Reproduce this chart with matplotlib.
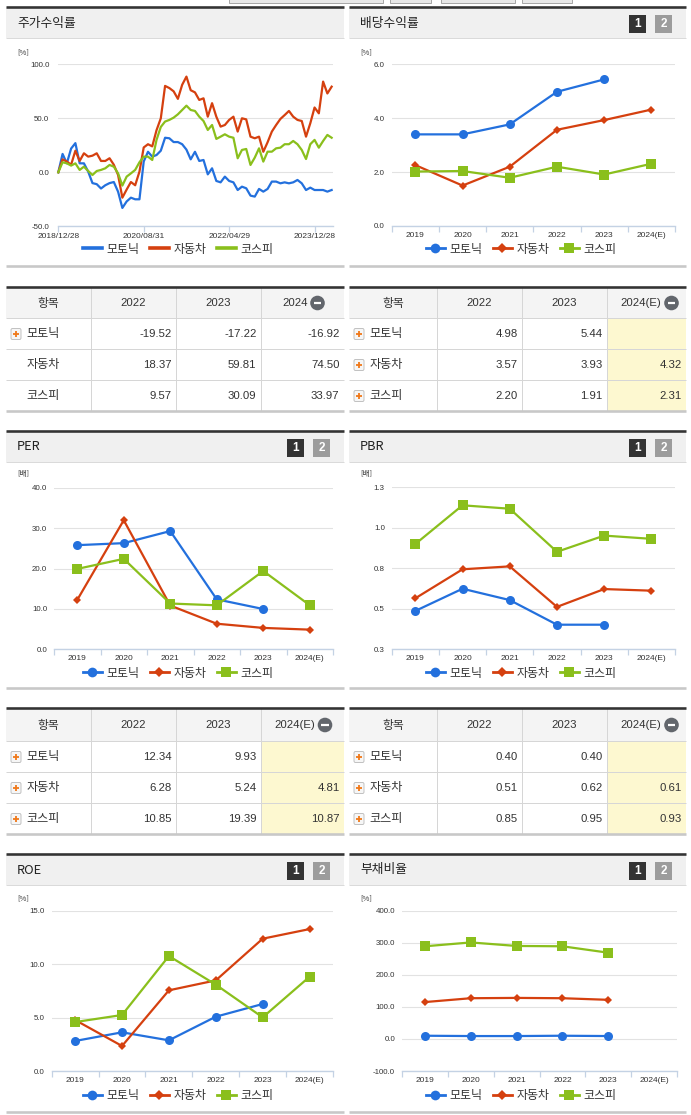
import numpy as np
import matplotlib
matplotlib.use('Agg')
import matplotlib.pyplot as plt
from matplotlib.patches import Rectangle, Circle, FancyBboxPatch
from matplotlib.lines import Line2D
from matplotlib import font_manager

# ---------------- data ----------------
series_names = ['모토닉', '자동차', '코스피']
years = ['2019', '2020', '2021', '2022', '2023', '2024(E)']

stock_tick_index = [0, 20, 40, 60]
stock_tick_labels = ['2018/12/28', '2020/08/31', '2022/04/29', '2023/12/28']
stock_motonic = [0, 17, 8.3, 22, 27, 8.3, 8.3, 0.6, -10, -11, -15, -12, -10, -9, -18, -33, -27, -23.5,
                 -25, -25, 10, 19, 14.5, 16, 20, 32, 31.5, 28, 28, 26, 21, 12, 19,
                 10.5, 11.4, -1.9, 3.7, -8, -9.3, -4, -8, -9.3, -16.4, -13.3, -14.8, -21.6, -22.5,
                 -15.4, -17.9, -15.4, -8.6, -8.6, -10.2, -9.3, -10.2, -9.3, -7.1, -10.2, -16.4,
                 -14.2, -16.4, -16.4, -16.4, -17.9, -16.4]
stock_auto = [0, 12, 10, 7, 20, 10.5, 17.6, 14.5, 15.4, 17.6, 10.5, 10.5, 13, 7, -2.5, -23.5, -16, -9,
              -12, 0.6, 23, 26, 24, 39, 50, 80, 78, 75, 68, 81, 88.6, 76, 74,
              67, 68.5, 51.5, 64, 51.5, 42.3, 43.8, 48.5, 51.5, 37.7, 50, 49, 33, 31.5, 33, 19,
              27.8, 37.7, 43.8, 49.4, 53, 56.8, 51.5, 48.5, 47.5, 33, 45.4, 60, 54.6, 84, 73, 79.3]
stock_kospi = [0, 9.3, 8.3, 6.2, 8.3, 2.2, 5.2, 1.2, -2.5, 1.2, 2.2, 3.7, 6.8, 5.2, -1, -12.3, -4, -1,
               2.2, 9.3, 14.5, 14.5, 11.4, 30, 42, 47, 48.5, 50.6, 53.7, 57.7, 61.7, 57.7, 56.8,
               51.5, 47.5, 39.2, 43.8, 30.9, 33, 35.2, 33, 32, 13, 20.7, 21.6, 6.8, 13.6, 22.2, 9.9,
               19.1, 19.1, 22.2, 22.8, 26, 26, 29, 26, 20.7, 12.3, 26, 30, 22.8, 29, 34.6, 32]

nan = np.nan
div_motonic = [3.40, 3.40, 3.77, 4.98, 5.44, nan]
div_auto = [2.26, 1.50, 2.20, 3.57, 3.93, 4.32]
div_kospi = [2.02, 2.04, 1.79, 2.20, 1.91, 2.31]

per_motonic = [25.8, 26.3, 29.3, 12.34, 9.93, nan]
per_auto = [12.2, 32.0, 10.8, 6.28, 5.24, 4.81]
per_kospi = [19.9, 22.4, 11.3, 10.85, 19.39, 10.87]

pbr_motonic = [0.485, 0.622, 0.552, 0.40, 0.40, nan]
pbr_auto = [0.563, 0.742, 0.76, 0.51, 0.62, 0.61]
pbr_kospi = [0.898, 1.137, 1.116, 0.85, 0.95, 0.93]

roe_motonic = [2.81, 3.62, 2.87, 5.08, 6.27, nan]
roe_auto = [4.77, 2.34, 7.55, 8.48, 12.38, 13.28]
roe_kospi = [4.58, 5.24, 10.76, 8.08, 5.02, 8.82]

debt_motonic = [10, 9, 9, 10, 9, nan]
debt_auto = [115, 127, 128, 127, 122, nan]
debt_kospi = [289, 301, 290, 289, 269, nan]

t_stock_head = ['2022', '2023', '2024']
t_stock_rows = [['-19.52', '-17.22', '-16.92'], ['18.37', '59.81', '74.50'], ['9.57', '30.09', '33.97']]
t_div_head = ['2022', '2023', '2024(E)']
t_div_rows = [['4.98', '5.44', ''], ['3.57', '3.93', '4.32'], ['2.20', '1.91', '2.31']]
t_per_head = ['2022', '2023', '2024(E)']
t_per_rows = [['12.34', '9.93', ''], ['6.28', '5.24', '4.81'], ['10.85', '19.39', '10.87']]
t_pbr_head = ['2022', '2023', '2024(E)']
t_pbr_rows = [['0.40', '0.40', ''], ['0.51', '0.62', '0.61'], ['0.85', '0.95', '0.93']]

# ---------------- style ----------------
KR = ['Noto Sans CJK KR', 'DejaVu Sans']
_avail = {f.name for f in font_manager.fontManager.ttflist}
NUM = ['Liberation Sans Narrow'] if 'Liberation Sans Narrow' in _avail else ['Liberation Sans', 'DejaVu Sans']
NUM_STRETCH = 'condensed'
AX = ['Liberation Sans', 'DejaVu Sans']
colors = ['#2370dd', '#d5400f', '#8abf1c']
markers = ['o', 'D', 's']
msizes = [6.5, 4.2, 6.5]
TXT = '#333333'
GRID = '#e2e2e2'
AXLINE = '#c4d2e4'

W, H = 691, 1115
fig = plt.figure(figsize=(W / 100, H / 100), dpi=100)
bg = fig.add_axes([0, 0, 1, 1], zorder=0)
bg.set_xlim(0, W)
bg.set_ylim(H, 0)
bg.axis('off')

PX = 0.72  # points per pixel


def hline(x0, x1, y, color, lw_px):
    bg.plot([x0, x1], [y, y], color=color, lw=lw_px * PX, solid_capstyle='butt')


def vline(x, y0, y1, color, lw_px):
    bg.plot([x, x], [y0, y1], color=color, lw=lw_px * PX, solid_capstyle='butt')


def numtext(x, y, s, ha):
    t = bg.text(x, y, s, fontsize=8.2, family=NUM, color=TXT, ha=ha, va='center')
    t.set_fontstretch(NUM_STRETCH)
    return t


# top partial tabs
for (a, b) in [(229, 383), (390, 431), (441, 515), (522, 572)]:
    bg.add_patch(Rectangle((a, -2), b - a, 5, fc='#e8e8e8', ec='#9a9a9a', lw=0.6))


def panel(x0, x1, ytop, ybot, title, numbox):
    bg.add_patch(Rectangle((x0, ytop), x1 - x0, 31, fc='#f0f0f0', ec='none'))
    hline(x0, x1, ytop, '#333333', 2.6)
    hline(x0, x1, ytop + 31, '#dadada', 1)
    hline(x0, x1, ybot, '#c8c8c8', 2.6)
    bg.text(x0 + 11, ytop + 16, title, fontsize=9.2, family=KR, color='#222222', va='center', ha='left')
    if numbox:
        for k, (fc, lab) in enumerate([('#333333', '1'), ('#9c9c9c', '2')]):
            bx = x1 - 57 + k * 26
            bg.add_patch(Rectangle((bx, ytop + 8), 17, 18, fc=fc, ec='none'))
            bg.text(bx + 8.5, ytop + 17.3, lab, fontsize=8.5, fontweight='bold', family=AX,
                    color='white', ha='center', va='center')


L0, L1, R0, R1 = 6, 344, 349, 686
panel(L0, L1, 7, 266, '주가수익률', False)
panel(R0, R1, 7, 266, '배당수익률', True)
panel(L0, L1, 431, 688, 'PER', True)
panel(R0, R1, 431, 688, 'PBR', True)
panel(L0, L1, 854, 1112, 'ROE', True)
panel(R0, R1, 854, 1112, '부채비율', True)


def legend(ax, handles, cx, cy):
    leg = ax.legend(handles=handles, loc='center', bbox_to_anchor=(cx / W, 1 - cy / H),
                    bbox_transform=fig.transFigure, ncol=3, frameon=False,
                    prop={'family': KR, 'size': 8.6}, handlelength=1.6, handletextpad=0.35,
                    columnspacing=0.9, numpoints=1, borderpad=0, borderaxespad=0)
    for t in leg.get_texts():
        t.set_color(TXT)


def make_ax(rect):
    x0, y0, x1, y1 = rect
    ax = fig.add_axes([x0 / W, 1 - y1 / H, (x1 - x0) / W, (y1 - y0) / H], zorder=2)
    ax.patch.set_alpha(0)
    for s in ['top', 'right', 'left']:
        ax.spines[s].set_visible(False)
    ax.spines['bottom'].set_color(AXLINE)
    ax.spines['bottom'].set_linewidth(1.0)
    ax.yaxis.grid(True, color=GRID, lw=0.8)
    ax.set_axisbelow(True)
    ax.tick_params(axis='y', length=0, pad=5, labelsize=5.7, labelcolor=TXT)
    return ax


def cat_chart(rect, data, ylim, yticks, ytlabels, unit, unit_xy, leg_c):
    ax = make_ax(rect)
    xs = np.arange(len(years))
    for vals, c, m, ms in zip(data, colors, markers, msizes):
        ax.plot(xs, vals, color=c, lw=1.6, marker=m, markersize=ms, markeredgewidth=0,
                clip_on=False, zorder=3)
    ax.set_xlim(-0.5, len(years) - 0.5)
    ax.set_ylim(*ylim)
    ax.set_yticks(yticks)
    ax.set_yticklabels(ytlabels, family=AX, fontsize=5.7, color=TXT)
    ax.set_xticks(np.arange(-0.5, len(years)), labels=[''] * (len(years) + 1))
    ax.set_xticks(xs, labels=years, minor=True)
    ax.tick_params(axis='x', which='major', length=4.5, width=0.9, color=AXLINE, direction='out')
    ax.tick_params(axis='x', which='minor', length=0, pad=4.6, labelsize=6, labelcolor=TXT)
    for lab in ax.get_xticklabels(minor=True):
        lab.set_family(AX)
    bg.text(unit_xy[0], unit_xy[1], unit, fontsize=5.5, family=KR, color=TXT, ha='left', va='center')
    handles = [Line2D([], [], color=c, marker=m, markersize=ms + 0.5, lw=2, markeredgewidth=0)
               for c, m, ms in zip(colors, markers, msizes)]
    for h, n in zip(handles, series_names):
        h.set_label(n)
    legend(ax, handles, *leg_c)
    return ax


# ---- stock return chart ----
ax = make_ax((58.3, 64.3, 332.5, 226.3))
idx = np.arange(len(stock_motonic))
for vals, c in zip([stock_motonic, stock_auto, stock_kospi], colors):
    ax.plot(idx, vals, color=c, lw=1.6, clip_on=False, zorder=3)
ax.set_xlim(0, 64.2)
ax.set_ylim(-50, 100)
ax.set_yticks([-50, 0, 50, 100])
ax.set_yticklabels(['-50.0', '0.0', '50.0', '100.0'], family=AX, fontsize=5.7, color=TXT)
ax.tick_params(axis='y', pad=6.5)
ax.set_xticks(stock_tick_index, labels=stock_tick_labels)
ax.tick_params(axis='x', length=4.5, width=0.9, color=AXLINE, pad=0.6, labelsize=6, labelcolor=TXT)
for lab in ax.get_xticklabels():
    lab.set_family(AX)
bg.text(17, 52, '[%]', fontsize=5.5, family=KR, color=TXT, ha='left', va='center')
sh = [Line2D([], [], color=c, lw=2.6, label=n) for c, n in zip(colors, series_names)]
legend(ax, sh, 178, 249)

# ---- category charts ----
cat_chart((391.7, 64.3, 675, 226), [div_motonic, div_auto, div_kospi], (0, 6),
          [0, 2, 4, 6], ['0.0', '2.0', '4.0', '6.0'], '[%]', (360, 52), (521, 249))
cat_chart((54, 488, 333, 649), [per_motonic, per_auto, per_kospi], (0, 40),
          [0, 10, 20, 30, 40], ['0.0', '10.0', '20.0', '30.0', '40.0'], '[배]', (17, 474), (178, 673))
cat_chart((391.7, 487, 675, 649), [pbr_motonic, pbr_auto, pbr_kospi], (0.25, 1.25),
          [0.25, 0.5, 0.75, 1.0, 1.25], ['0.3', '0.5', '0.8', '1.0', '1.3'], '[배]', (360, 474), (521, 673))
cat_chart((51.7, 910.7, 333, 1071), [roe_motonic, roe_auto, roe_kospi], (0, 15),
          [0, 5, 10, 15], ['0.0', '5.0', '10.0', '15.0'], '[%]', (17, 898), (178, 1096))
cat_chart((402, 910.7, 677, 1071), [debt_motonic, debt_auto, debt_kospi], (-100, 400),
          [-100, 0, 100, 200, 300, 400], ['-100.0', '0.0', '100.0', '200.0', '300.0', '400.0'],
          '[%]', (360, 898), (521, 1096))


# ---------------- tables ----------------
def plus_icon(x, y):
    bg.add_patch(FancyBboxPatch((x, y - 5.5), 10, 11, boxstyle='round,pad=0,rounding_size=1.5',
                                fc='#f6f6f6', ec='#b8b8b8', lw=0.6))
    hline(x + 2.3, x + 7.7, y, '#f07818', 1.8)
    vline(x + 5, y - 2.7, y + 2.7, '#f07818', 1.8)


def minus_icon(cx, cy):
    bg.add_patch(Circle((cx, cy), 7.3, fc='#62666c', ec='none'))
    hline(cx - 3.8, cx + 3.8, cy, 'white', 2.2)


def table(xe, ytop, hh, rh, heads, rows, icons, highlight, minus_off):
    nrow = len(rows)
    ybot = ytop + hh + rh * nrow
    bg.add_patch(Rectangle((xe[0], ytop), xe[-1] - xe[0], hh, fc='#f4f4f4', ec='none'))
    if highlight:
        bg.add_patch(Rectangle((xe[3], ytop + hh), xe[4] - xe[3], rh * nrow, fc='#fdf8d0', ec='none'))
    for i in range(nrow):
        hline(xe[0], xe[-1], ytop + hh + rh * i, '#d6d6d6', 1)
    for x in xe[1:-1]:
        vline(x, ytop, ybot, '#d6d6d6', 1)
    hline(xe[0], xe[-1], ytop, '#333333', 2.6)
    hline(xe[0], xe[-1], ybot, '#c8c8c8', 2.6)
    hy = ytop + hh / 2 + 0.5
    bg.text((xe[0] + xe[1]) / 2, hy, '항목', fontsize=8.5, family=KR, color=TXT, ha='center', va='center')
    for j, hd in enumerate(heads):
        cx = (xe[j + 1] + xe[j + 2]) / 2
        if j == 2:
            mx = cx + minus_off
            minus_icon(mx, hy)
            numtext(mx - 10, hy, hd, 'right')
        else:
            numtext(cx, hy, hd, 'center')
    for i, (name, vals) in enumerate(zip(series_names, rows)):
        yc = ytop + hh + rh * i + rh / 2
        if icons[i]:
            plus_icon(xe[0] + 5, yc + 0.5)
        bg.text(xe[0] + 20.5, yc, name, fontsize=8.7, family=KR, color=TXT, ha='left', va='center')
        for j, v in enumerate(vals):
            numtext(xe[j + 2] - 4.5, yc + 0.5, v, 'right')


LX = [L0, 91, 176, 261, L1]
RX = [R0, 437, 522, 607, R1]
table(LX, 287, 31, 31, t_stock_head, t_stock_rows, [True, False, False], False, 15)
table(RX, 287, 31, 31, t_div_head, t_div_rows, [True, True, True], True, 25)
table(LX, 708, 33, 31, t_per_head, t_per_rows, [True, True, True], True, 22.5)
table(RX, 708, 33, 31, t_pbr_head, t_pbr_rows, [True, True, True], True, 25)

fig.savefig('out.png', dpi=100, facecolor='white')
